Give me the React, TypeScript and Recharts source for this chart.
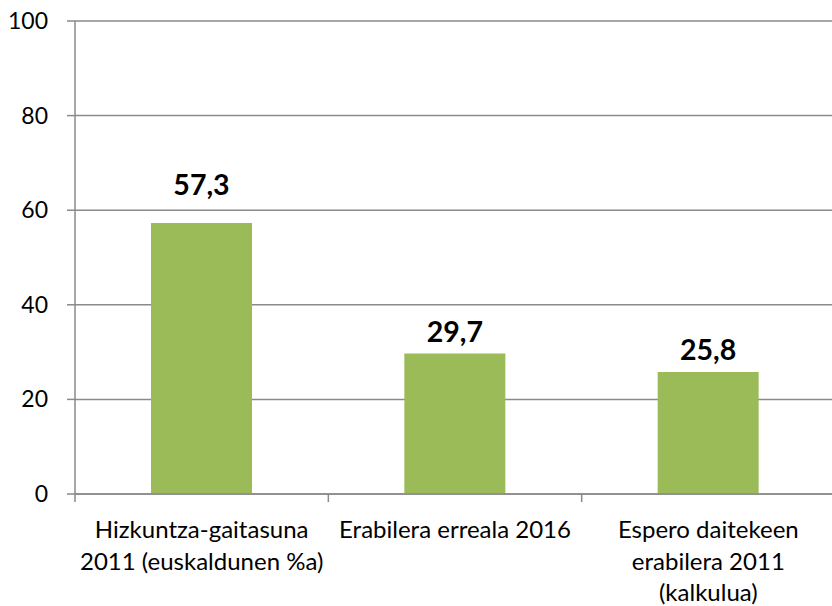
import { BarChart, Bar, XAxis, YAxis, CartesianGrid, LabelList } from 'recharts';

// categories (line breaks mark where the labels wrap)
const categories = [
  'Hizkuntza-gaitasuna\n2011 (euskaldunen %a)',
  'Erabilera erreala 2016',
  'Espero daitekeen\nerabilera 2011\n(kalkulua)',
];
const values = [57.3, 29.7, 25.8];
const yTicks = [0, 20, 40, 60, 80, 100];

// how far each value label sits above its bar
const labelLift = [28, 12, 12];

const data = categories.map((name, i) => ({ name, value: values[i] }));

const CHART_W = 835;
const LEFT = 75;
const BAND = (CHART_W - LEFT) / categories.length;
const GRAY = '#8a8a8a';
const FONT = 'Lato, "Open Sans", sans-serif';

const CategoryTick = (props: any) => {
  const { x, y, payload, index } = props;
  const lines = String(payload.value).split('\n');
  const isLast = index === categories.length - 1;
  return (
    <g>
      <line x1={x - BAND / 2} y1={y} x2={x - BAND / 2} y2={y + 8} stroke={GRAY} strokeWidth={1.5} />
      {isLast && <line x1={x + BAND / 2} y1={y} x2={x + BAND / 2} y2={y + 8} stroke={GRAY} strokeWidth={1.5} />}
      <text x={x} y={y + 44} textAnchor="middle" fill="#000" fontSize={24} fontFamily={FONT}>
        {lines.map((l, i) => (
          <tspan key={i} x={x} dy={i === 0 ? 0 : 31.5}>
            {l}
          </tspan>
        ))}
      </text>
    </g>
  );
};

const ValueTick = (props: any) => {
  const { x, y, payload } = props;
  return (
    <text x={x} y={y} dy={8} textAnchor="end" fill="#000" fontSize={23} fontFamily={FONT}>
      {payload.value}
    </text>
  );
};

const ValueLabel = (props: any) => {
  const { x, y, width, value, index } = props;
  const lift = labelLift[index] ?? 12;
  return (
    <text
      x={Number(x) + Number(width) / 2}
      y={Number(y) - lift}
      textAnchor="middle"
      fill="#000"
      fontSize={28.5}
      fontWeight="bold"
      fontFamily={FONT}
    >
      {Number(value).toFixed(1).replace('.', ',')}
    </text>
  );
};

export default function App() {
  return (
    <div style={{ position: 'absolute', left: 0, top: 0, width: 832, height: 606, overflow: 'hidden', background: '#fff' }}>
      <BarChart width={CHART_W} height={606} data={data} margin={{ top: 21, right: 0, left: 0, bottom: 12 }}>
        <CartesianGrid vertical={false} stroke={GRAY} strokeWidth={1.5} />
        <XAxis
          dataKey="name"
          interval={0}
          height={100}
          tickSize={0}
          tickMargin={0}
          tickLine={false}
          axisLine={{ stroke: GRAY, strokeWidth: 1.5 }}
          tick={<CategoryTick />}
        />
        <YAxis
          width={LEFT}
          domain={[0, 100]}
          ticks={yTicks}
          interval={0}
          tickSize={8}
          tickMargin={19}
          axisLine={{ stroke: GRAY, strokeWidth: 1.5 }}
          tickLine={{ stroke: GRAY, strokeWidth: 1.5 }}
          tick={<ValueTick />}
        />
        <Bar dataKey="value" fill="#9bbb59" barSize={101} isAnimationActive={false}>
          <LabelList dataKey="value" content={<ValueLabel />} />
        </Bar>
      </BarChart>
    </div>
  );
}
